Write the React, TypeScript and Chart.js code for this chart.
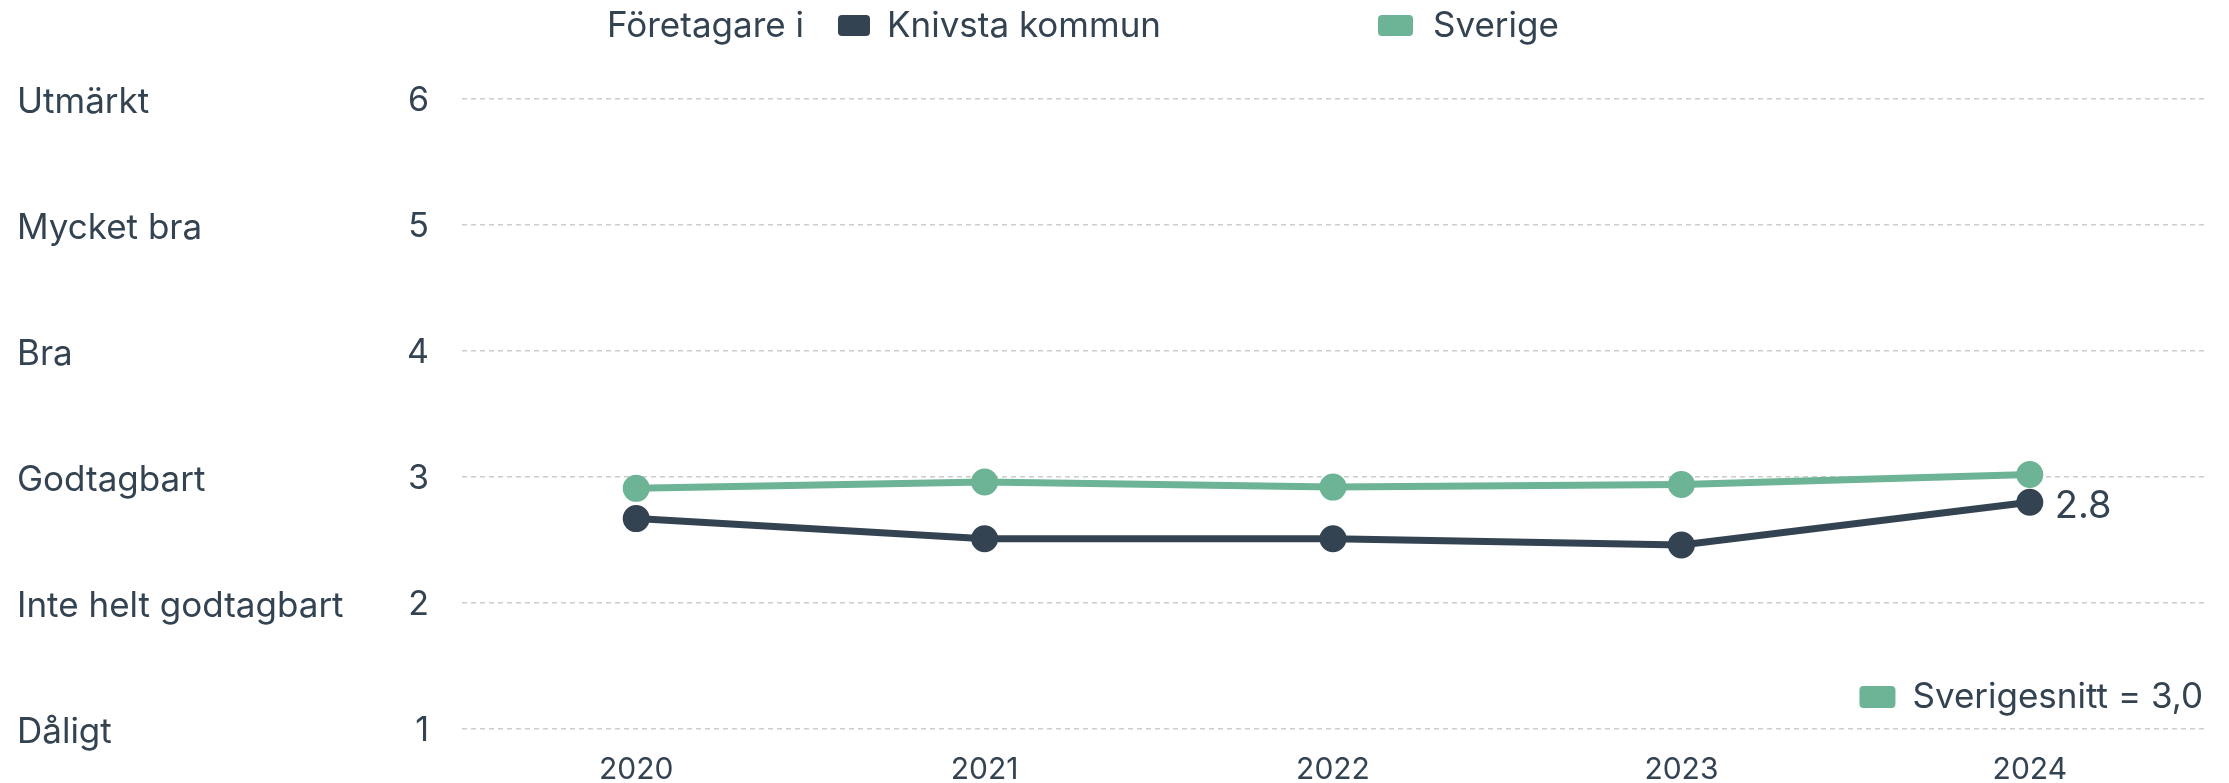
import React, { useEffect, useRef } from 'react';
import { Chart, registerables } from 'chart.js';

Chart.register(...registerables);

const years = ['2020', '2021', '2022', '2023', '2024'];
const knivsta = [2.67, 2.51, 2.51, 2.46, 2.8];
const sverige = [2.91, 2.96, 2.92, 2.94, 3.02];
const yTickValues = [1, 2, 3, 4, 5, 6];
const yTickNames = ['Dåligt', 'Inte helt godtagbart', 'Godtagbart', 'Bra', 'Mycket bra', 'Utmärkt'];
const legendTitle = 'Företagare i';
const seriesNames = ['Knivsta kommun', 'Sverige'];
const averageLabel = 'Sverigesnitt = 3,0';
const lastValueLabel = '2.8';

const TEXT = '#344352';
const DARK = '#344352';
const GREEN = '#6db395';
const FONT = 'Inter, "Open Sans", sans-serif';

function roundBox(ctx: CanvasRenderingContext2D, x: number, y: number, w: number, h: number, r: number, color: string) {
  ctx.beginPath();
  ctx.moveTo(x + r, y);
  ctx.lineTo(x + w - r, y);
  ctx.quadraticCurveTo(x + w, y, x + w, y + r);
  ctx.lineTo(x + w, y + h - r);
  ctx.quadraticCurveTo(x + w, y + h, x + w - r, y + h);
  ctx.lineTo(x + r, y + h);
  ctx.quadraticCurveTo(x, y + h, x, y + h - r);
  ctx.lineTo(x, y + r);
  ctx.quadraticCurveTo(x, y, x + r, y);
  ctx.closePath();
  ctx.fillStyle = color;
  ctx.fill();
}

const overlayPlugin = {
  id: 'overlay',
  afterDraw(chart: any) {
    const ctx: CanvasRenderingContext2D = chart.ctx;
    const area = chart.chartArea;
    ctx.save();
    ctx.textBaseline = 'middle';
    ctx.textAlign = 'left';
    ctx.fillStyle = TEXT;
    ctx.font = `35px ${FONT}`;
    // top legend
    const ly = 26;
    ctx.fillText(legendTitle, 607, ly);
    roundBox(ctx, 838, 15, 32, 21, 4, DARK);
    ctx.fillStyle = TEXT;
    ctx.fillText(seriesNames[0], 887, ly);
    roundBox(ctx, 1378, 15, 35, 21, 4, GREEN);
    ctx.fillStyle = TEXT;
    ctx.fillText(seriesNames[1], 1433, ly);

    // bottom-right average legend
    ctx.font = `35px ${FONT}`;
    const right = area.right - 1;
    const w = ctx.measureText(averageLabel).width;
    const ay = area.bottom - 32;
    ctx.fillText(averageLabel, right - w, ay);
    roundBox(ctx, right - w - 53, ay - 11, 36, 22, 4, GREEN);

    // last value label
    const meta = chart.getDatasetMeta(0);
    const pt = meta.data[meta.data.length - 1];
    ctx.fillStyle = TEXT;
    ctx.font = `38px ${FONT}`;
    ctx.fillText(lastValueLabel, pt.x + 25, pt.y + 4);
    ctx.restore();
  },
};

export default function App() {
  const ref = useRef<HTMLCanvasElement | null>(null);

  useEffect(() => {
    if (!ref.current) return;
    const chart = new Chart(ref.current, {
      type: 'line',
      data: {
        labels: years,
        datasets: [
          {
            label: seriesNames[0],
            data: knivsta,
            borderColor: DARK,
            backgroundColor: DARK,
            pointBackgroundColor: DARK,
            pointBorderColor: DARK,
            borderWidth: 7,
            pointRadius: 10,
            pointHoverRadius: 10,
            tension: 0,
          },
          {
            label: seriesNames[1],
            data: sverige,
            borderColor: GREEN,
            backgroundColor: GREEN,
            pointBackgroundColor: GREEN,
            pointBorderColor: GREEN,
            borderWidth: 7,
            pointRadius: 10,
            pointHoverRadius: 10,
            tension: 0,
          },
        ],
      },
      options: {
        animation: false,
        responsive: true,
        maintainAspectRatio: false,
        devicePixelRatio: 1,
        layout: { padding: { left: 17, right: 25, top: 99, bottom: 0 } },
        plugins: {
          legend: { display: false },
          tooltip: { enabled: false },
        },
        scales: {
          x: {
            type: 'category',
            offset: true,
            grid: { display: false },
            border: { display: false },
            ticks: { color: TEXT, font: { family: FONT, size: 30 }, padding: 15, maxRotation: 0 },
            afterFit: (s: any) => { s.height = 54; },
          },
          y: {
            position: 'left',
            min: 1,
            max: 6,
            weight: 1,
            ticks: { stepSize: 1, color: TEXT, font: { family: FONT, size: 34 }, padding: 33, labelOffset: 2 },
            grid: { color: '#cccccc', lineWidth: 1.5, drawTicks: false },
            border: { display: false, dash: [5, 4] },
            afterFit: (s: any) => { s.width = 60; },
          },
          yNames: {
            position: 'left',
            min: 1,
            max: 6,
            weight: 2,
            ticks: {
              stepSize: 1,
              color: TEXT,
              font: { family: FONT, size: 35 },
              crossAlign: 'far',
              labelOffset: 3,
              callback: (v: any) => {
                const i = yTickValues.indexOf(Number(v));
                return i >= 0 ? yTickNames[i] : '';
              },
            },
            grid: { display: false, drawTicks: false },
            border: { display: false },
            afterFit: (s: any) => { s.width = 385; },
          },
        },
      } as any,
      plugins: [overlayPlugin],
    });
    return () => chart.destroy();
  }, []);

  return (
    <div style={{ position: 'fixed', left: 0, top: 0, width: 2229, height: 783 }}>
      <canvas ref={ref} />
    </div>
  );
}
